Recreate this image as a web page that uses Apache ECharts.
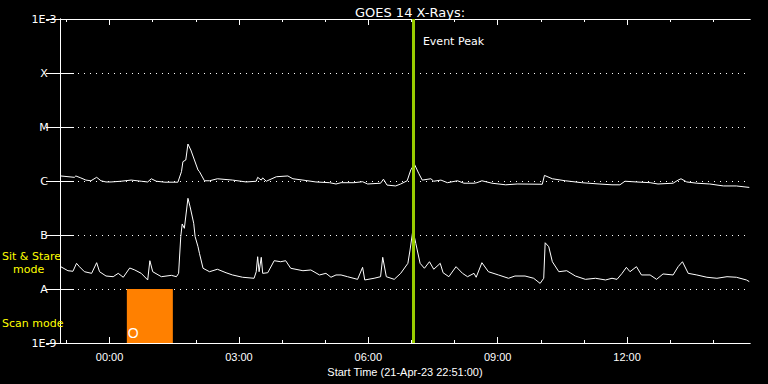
<!DOCTYPE html>
<html><head><meta charset="utf-8">
<script src="https://cdn.jsdelivr.net/npm/echarts@6/dist/echarts.min.js"></script>
<style>html,body{margin:0;padding:0;background:#000}#c{width:768px;height:384px}</style>
</head><body><div id="c"></div>
<script>
// ---- data (x: minutes since start 21-Apr-23 22:51:00, y: flux W/m^2) ----
const chartTitle = 'GOES 14 X-Rays:';
const startLabel = 'Start Time (21-Apr-23 22:51:00)';
const startClockMinutes = 22 * 60 + 51;
const spanMinutes = 960;
const timeLabelMinutes = [69, 249, 429, 609, 789];            // 00:00 03:00 06:00 09:00 12:00
const hourTickMinutes = [9, 69, 129, 189, 249, 309, 369, 429, 489, 549, 609, 669, 729, 789, 849, 909];
const levelLabels = {'-3': '1E-3', '-4': 'X', '-5': 'M', '-6': 'C', '-7': 'B', '-8': 'A', '-9': '1E-9'};
const eventPeakMinute = 491;
const eventPeakLabel = 'Event Peak';
const scanWindow = [93, 157];
const scanMark = 'O';
const sitStareLabel = ['Sit & Stare', 'mode'];
const scanModeLabel = 'Scan mode';

const longTimes = [1,20,22,29,36,43,51,57,64,71,85,99,113,122,127,134,146,164,169,171,175,178,182,187,192,194,201,208,219,240,259,273,275,280,282,287,301,317,324,338,356,375,384,391,409,421,428,446,450,455,467,474,483,488,493,499,504,516,520,530,539,553,562,576,580,587,601,620,636,671,674,685,703,726,750,768,779,786,802,821,832,853,860,864,872,886,904,923,941,959];
const longFlux = [1.24e-6,1.17e-6,1.24e-6,1.14e-6,1.04e-6,1.01e-6,1.17e-6,1.01e-6,0.96e-6,0.96e-6,0.99e-6,1.04e-6,0.99e-6,0.96e-6,1.10e-6,0.99e-6,0.95e-6,0.95e-6,1.49e-6,2.28e-6,2.45e-6,4.84e-6,3.75e-6,2.45e-6,1.60e-6,1.49e-6,1.01e-6,1.01e-6,1.10e-6,1.04e-6,0.96e-6,0.99e-6,1.17e-6,1.04e-6,1.14e-6,0.99e-6,1.20e-6,1.24e-6,1.10e-6,1.04e-6,0.96e-6,0.93e-6,0.88e-6,0.93e-6,0.93e-6,0.97e-6,0.88e-6,0.91e-6,1.08e-6,0.84e-6,0.81e-6,0.88e-6,1.01e-6,1.60e-6,2.06e-6,1.39e-6,1.04e-6,1.10e-6,0.99e-6,1.04e-6,0.93e-6,1.01e-6,0.91e-6,0.91e-6,0.93e-6,1.01e-6,0.91e-6,0.85e-6,0.88e-6,0.87e-6,1.27e-6,1.10e-6,1.01e-6,0.93e-6,0.88e-6,0.85e-6,0.85e-6,0.99e-6,0.96e-6,0.93e-6,0.88e-6,0.91e-6,1.04e-6,1.10e-6,0.96e-6,0.91e-6,0.88e-6,0.81e-6,0.81e-6,0.76e-6];

const shortTimes = [1,11,18,23,27,34,44,51,55,64,74,81,88,97,104,113,122,125,129,141,155,162,165,168,170,173,178,181,186,188,192,194,199,208,219,231,240,254,270,273,275,277,280,282,289,298,307,314,321,338,349,361,370,377,384,391,400,414,421,424,437,446,449,454,465,474,484,487,491,495,501,507,514,520,529,533,541,551,560,567,576,579,587,596,610,624,633,647,659,668,673,675,680,685,694,705,717,731,745,759,768,775,782,788,793,802,809,821,830,839,853,860,866,874,886,900,914,928,941,955,959];
const shortFlux = [2.59e-8,2.18e-8,2.13e-8,2.99e-8,2.59e-8,2.09e-8,1.95e-8,3.07e-8,2.09e-8,1.74e-8,1.69e-8,1.95e-8,1.65e-8,2.45e-8,2.25e-8,1.95e-8,1.47e-8,3.34e-8,2.09e-8,1.69e-8,1.79e-8,1.69e-8,1.95e-8,9.3e-8,16.0e-8,13.3e-8,47.8e-8,33.3e-8,16.5e-8,9.3e-8,6.07e-8,4.58e-8,2.42e-8,2.09e-8,2.32e-8,2.00e-8,1.82e-8,1.65e-8,1.58e-8,2.09e-8,3.96e-8,2.09e-8,3.86e-8,1.95e-8,2.00e-8,3.34e-8,3.20e-8,3.34e-8,2.42e-8,2.18e-8,2.25e-8,1.82e-8,1.95e-8,1.65e-8,1.82e-8,1.82e-8,1.69e-8,1.51e-8,2.52e-8,1.47e-8,1.58e-8,1.69e-8,3.86e-8,1.69e-8,1.51e-8,1.95e-8,2.99e-8,5.27e-8,12.4e-8,7.0e-8,2.99e-8,2.42e-8,3.20e-8,2.32e-8,2.99e-8,2.00e-8,1.69e-8,2.59e-8,1.95e-8,1.69e-8,1.95e-8,1.65e-8,3.07e-8,2.09e-8,1.82e-8,1.58e-8,1.74e-8,1.74e-8,1.58e-8,1.27e-8,1.58e-8,7.19e-8,6.07e-8,3.20e-8,2.09e-8,2.18e-8,1.74e-8,1.51e-8,1.58e-8,1.47e-8,1.58e-8,1.51e-8,1.95e-8,2.52e-8,2.09e-8,2.59e-8,1.82e-8,1.82e-8,1.51e-8,1.90e-8,1.82e-8,2.59e-8,3.20e-8,1.95e-8,1.82e-8,1.65e-8,1.58e-8,1.69e-8,1.65e-8,1.47e-8,1.37e-8];

// ---- chart ----
function pad(n) { return (n < 10 ? '0' : '') + n; }
function fmtTime(m) { const t = (startClockMinutes + Math.round(m)) % 1440; return pad(Math.floor(t / 60)) + ':' + pad(t % 60); }
function zip(a, b) { return a.map((v, i) => [v, b[i]]); }

const WHITE = '#ffffff';
const YELLOW = '#ffff00';
const chart = echarts.init(document.getElementById('c'), null, {renderer: 'svg'});

function xAxisCfg(pos, major, withLabels) {
  const ticks = major ? timeLabelMinutes : hourTickMinutes;
  const cfg = {
    type: 'value', min: 0, max: spanMinutes, position: pos,
    axisLine: {show: true, onZero: false, lineStyle: {color: WHITE, width: 1}},
    axisTick: {show: true, inside: true, length: major ? 6 : 3, customValues: ticks, lineStyle: {color: WHITE, width: 1}},
    axisLabel: {show: !!withLabels, customValues: timeLabelMinutes, formatter: v => fmtTime(v), color: WHITE, fontFamily: 'Liberation Sans', fontSize: 11, margin: 8},
    splitLine: {show: false}
  };
  if (withLabels) {
    cfg.name = startLabel; cfg.nameLocation = 'middle'; cfg.nameGap = 18;
    cfg.nameTextStyle = {color: WHITE, fontFamily: 'Liberation Sans', fontSize: 11};
  }
  return cfg;
}

const option = {
  backgroundColor: '#000',
  animation: false,
  title: {text: chartTitle, left: 405, textAlign: 'center', top: 1,
    textStyle: {color: WHITE, fontSize: 13, fontWeight: 'normal', fontFamily: 'DejaVu Sans'}},
  grid: {left: 60, right: 18, top: 19, bottom: 41, containLabel: false},
  xAxis: [xAxisCfg('bottom', true, true), xAxisCfg('top', true, false), xAxisCfg('bottom', false, false), xAxisCfg('top', false, false)],
  yAxis: [
    {type: 'log', logBase: 10, min: 1e-9, max: 1e-3, splitNumber: 6, position: 'left',
     axisLine: {show: true, lineStyle: {color: WHITE, width: 1}},
     axisTick: {show: true, inside: true, length: 14, lineStyle: {color: WHITE, width: 1}},
     axisLabel: {color: WHITE, fontFamily: 'DejaVu Sans', fontSize: 11, margin: 16, align: 'center',
       formatter: v => levelLabels[String(Math.round(Math.log10(v)))] || ''},
     splitLine: {show: true, lineStyle: {color: WHITE, width: 1, type: [1, 5]}},
     minorTick: {show: false}},
    {type: 'log', logBase: 10, min: 1e-9, max: 1e-3, splitNumber: 6, position: 'right',
     axisLine: {show: true, lineStyle: {color: WHITE, width: 1}},
     axisTick: {show: true, inside: true, length: 14, lineStyle: {color: WHITE, width: 1}},
     axisLabel: {show: false}, splitLine: {show: false}}
  ],
  series: [
    {type: 'line', name: 'scan', data: [], xAxisIndex: 0, yAxisIndex: 0, z: 1,
     markArea: {silent: true,
       itemStyle: {color: '#ff8000'},
       label: {show: true, position: 'insideBottomLeft', formatter: scanMark, color: WHITE,
               fontFamily: 'Liberation Sans', fontSize: 14, distance: 2, offset: [-1, -1]},
       data: [[{xAxis: scanWindow[0], yAxis: 1e-9}, {xAxis: scanWindow[1], yAxis: 1e-8}]]}},
    {type: 'line', name: '1-8 A', data: zip(longTimes, longFlux), xAxisIndex: 0, yAxisIndex: 0,
     showSymbol: false, symbol: 'none', lineStyle: {color: WHITE, width: 1}, z: 3},
    {type: 'line', name: '0.5-4 A', data: zip(shortTimes, shortFlux), xAxisIndex: 0, yAxisIndex: 0,
     showSymbol: false, symbol: 'none', lineStyle: {color: WHITE, width: 1}, z: 3},
    {type: 'line', name: 'peak', data: [], xAxisIndex: 0, yAxisIndex: 0, z: 6,
     markLine: {silent: true, symbol: 'none', label: {show: false},
       lineStyle: {color: '#99cc00', width: 3, type: 'solid'},
       data: [{xAxis: eventPeakMinute}]}}
  ]
};
chart.setOption(option);

const peakX = chart.convertToPixel({xAxisIndex: 0}, eventPeakMinute);
chart.setOption({
  graphic: [
    {type: 'text', left: peakX + 10, top: 36, z: 10,
     style: {text: eventPeakLabel, fill: WHITE, fontFamily: 'DejaVu Sans', fontSize: 11}},
    {type: 'text', left: 2, top: 251, z: 10,
     style: {text: sitStareLabel[0], fill: YELLOW, fontFamily: 'DejaVu Sans', fontSize: 11}},
    {type: 'text', left: 13, top: 264, z: 10,
     style: {text: sitStareLabel[1], fill: YELLOW, fontFamily: 'DejaVu Sans', fontSize: 11}},
    {type: 'text', left: 2, top: 318, z: 10,
     style: {text: scanModeLabel, fill: YELLOW, fontFamily: 'DejaVu Sans', fontSize: 11}}
  ]
});
</script></body></html>
